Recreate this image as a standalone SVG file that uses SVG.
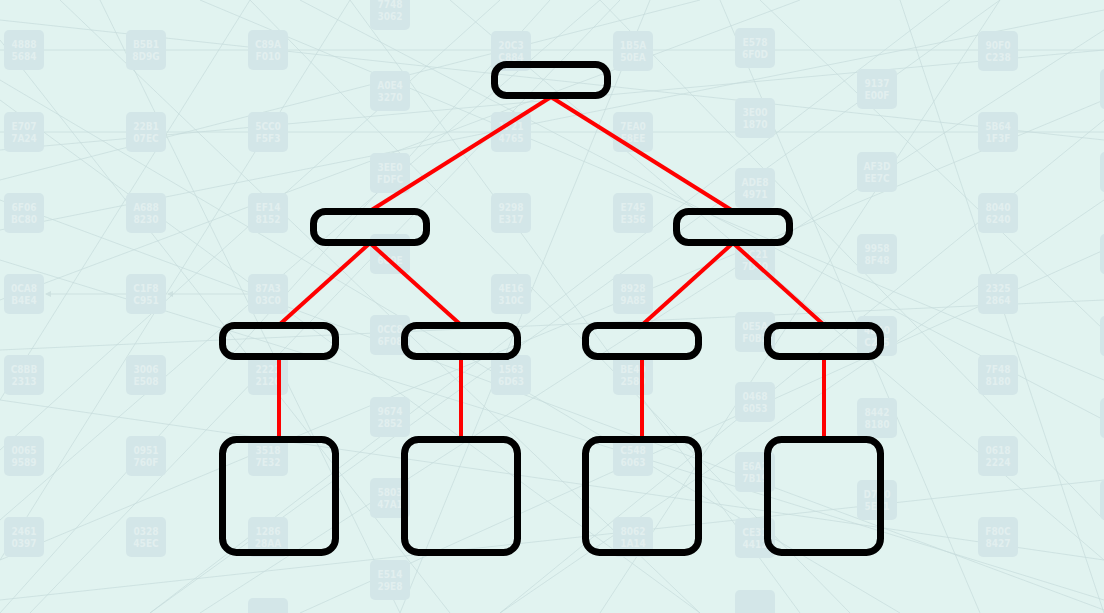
<svg xmlns="http://www.w3.org/2000/svg" width="1104" height="613" viewBox="0 0 1104 613">
<style>
.bgl{stroke:#c6dbdb;stroke-width:1;fill:none;opacity:0.7}
.tile rect{fill:#d3e6e8}
.tile text{font-family:"DejaVu Sans Condensed","DejaVu Sans",sans-serif;font-weight:bold;font-size:10px;fill:#e2efef;text-anchor:middle}
.edge{stroke:#ff0000;stroke-width:4;fill:none;stroke-linecap:butt}
.node rect{fill:none;stroke:#000000;stroke-width:7}
</style>
<defs>
<marker id="bgarrow" markerWidth="6" markerHeight="6" refX="5" refY="3" orient="auto"><path d="M0,0 L6,3 L0,6 z" fill="#c6dbdb"/></marker>
</defs>
<rect x="0" y="0" width="1104" height="613" fill="#e1f3f0"/>
<g id="background-lines">
<path class="bgl" d="M0,20 L1104,140"/>
<path class="bgl" d="M0,180 L700,0"/>
<path class="bgl" d="M100,0 L400,613"/>
<path class="bgl" d="M250,0 L0,400"/>
<path class="bgl" d="M300,613 L1104,250"/>
<path class="bgl" d="M0,520 L600,0"/>
<path class="bgl" d="M450,0 L1104,560"/>
<path class="bgl" d="M1104,30 L200,613"/>
<path class="bgl" d="M0,80 L900,613"/>
<path class="bgl" d="M600,613 L1000,0"/>
<path class="bgl" d="M800,0 L0,300"/>
<path class="bgl" d="M1104,420 L300,0"/>
<path class="bgl" d="M0,600 L1104,480"/>
<path class="bgl" d="M150,613 L950,0"/>
<path class="bgl" d="M0,350 L1104,300"/>
<path class="bgl" d="M700,613 L0,100"/>
<path class="bgl" d="M1104,200 L500,613"/>
<path class="bgl" d="M350,0 L800,613"/>
<path class="bgl" d="M0,450 L500,0"/>
<path class="bgl" d="M900,0 L1104,613"/>
<path class="bgl" d="M0,260 L1104,600"/>
<path class="bgl" d="M550,0 L0,613"/>
<path class="bgl" d="M1104,100 L0,560"/>
<path class="bgl" d="M200,0 L1104,380"/>
<path class="bgl" d="M650,0 L400,613"/>
<path class="bgl" d="M0,40 L450,613"/>
<path class="bgl" d="M1104,520 L600,0"/>
<path class="bgl" d="M850,613 L250,0"/>
<path class="bgl" d="M0,150 L1104,50"/>
<path class="bgl" d="M60,0 L700,613"/>
<path class="bgl" d="M1000,0 L150,613"/>
<path class="bgl" d="M0,230 L1104,10"/>
<path class="bgl" d="M0,400 L1104,560"/>
<path class="bgl" d="M760,0 L1104,330"/>
<path class="bgl" d="M0,560 L350,0"/>
<path class="bgl" d="M500,613 L1104,120"/>
<path class="bgl" d="M1104,610 L0,200"/>
<path class="bgl" d="M30,613 L620,0"/>
<path class="bgl" d="M720,0 L980,613"/>
<path class="bgl" d="M0,50 L1104,50"/>
<path class="bgl" d="M0,132 L1104,132"/>
<path class="bgl" d="M126,294 L46,294" marker-end="url(#bgarrow)"/>
<path class="bgl" d="M248,294 L168,294" marker-end="url(#bgarrow)"/>
</g>
<g id="background-tiles">
<g class="tile"><rect x="4" y="30" width="40" height="40" rx="5"/><text x="24" y="48">4888</text><text x="24" y="60">5684</text></g>
<g class="tile"><rect x="4" y="112" width="40" height="40" rx="5"/><text x="24" y="130">E707</text><text x="24" y="142">7A24</text></g>
<g class="tile"><rect x="4" y="193" width="40" height="40" rx="5"/><text x="24" y="211">6F06</text><text x="24" y="223">BC80</text></g>
<g class="tile"><rect x="4" y="274" width="40" height="40" rx="5"/><text x="24" y="292">0CA8</text><text x="24" y="304">B4E4</text></g>
<g class="tile"><rect x="4" y="355" width="40" height="40" rx="5"/><text x="24" y="373">C8BB</text><text x="24" y="385">2313</text></g>
<g class="tile"><rect x="4" y="436" width="40" height="40" rx="5"/><text x="24" y="454">0065</text><text x="24" y="466">9589</text></g>
<g class="tile"><rect x="4" y="517" width="40" height="40" rx="5"/><text x="24" y="535">2461</text><text x="24" y="547">0397</text></g>
<g class="tile"><rect x="126" y="30" width="40" height="40" rx="5"/><text x="146" y="48">B5B1</text><text x="146" y="60">8D9G</text></g>
<g class="tile"><rect x="126" y="112" width="40" height="40" rx="5"/><text x="146" y="130">22B1</text><text x="146" y="142">07EC</text></g>
<g class="tile"><rect x="126" y="193" width="40" height="40" rx="5"/><text x="146" y="211">A688</text><text x="146" y="223">8230</text></g>
<g class="tile"><rect x="126" y="274" width="40" height="40" rx="5"/><text x="146" y="292">C1F8</text><text x="146" y="304">C951</text></g>
<g class="tile"><rect x="126" y="355" width="40" height="40" rx="5"/><text x="146" y="373">3006</text><text x="146" y="385">E508</text></g>
<g class="tile"><rect x="126" y="436" width="40" height="40" rx="5"/><text x="146" y="454">0951</text><text x="146" y="466">760F</text></g>
<g class="tile"><rect x="126" y="517" width="40" height="40" rx="5"/><text x="146" y="535">0328</text><text x="146" y="547">45EC</text></g>
<g class="tile"><rect x="248" y="30" width="40" height="40" rx="5"/><text x="268" y="48">C89A</text><text x="268" y="60">F010</text></g>
<g class="tile"><rect x="248" y="112" width="40" height="40" rx="5"/><text x="268" y="130">5CC0</text><text x="268" y="142">F5F3</text></g>
<g class="tile"><rect x="248" y="193" width="40" height="40" rx="5"/><text x="268" y="211">EF14</text><text x="268" y="223">8152</text></g>
<g class="tile"><rect x="248" y="274" width="40" height="40" rx="5"/><text x="268" y="292">87A3</text><text x="268" y="304">03C0</text></g>
<g class="tile"><rect x="248" y="355" width="40" height="40" rx="5"/><text x="268" y="373">2222</text><text x="268" y="385">2120</text></g>
<g class="tile"><rect x="248" y="436" width="40" height="40" rx="5"/><text x="268" y="454">3518</text><text x="268" y="466">7E32</text></g>
<g class="tile"><rect x="248" y="517" width="40" height="40" rx="5"/><text x="268" y="535">1286</text><text x="268" y="547">28AA</text></g>
<g class="tile"><rect x="248" y="598" width="40" height="40" rx="5"/></g>
<g class="tile"><rect x="370" y="-10" width="40" height="40" rx="5"/><text x="390" y="8">7748</text><text x="390" y="20">3062</text></g>
<g class="tile"><rect x="370" y="71" width="40" height="40" rx="5"/><text x="390" y="89">A0E4</text><text x="390" y="101">3270</text></g>
<g class="tile"><rect x="370" y="153" width="40" height="40" rx="5"/><text x="390" y="171">3EE0</text><text x="390" y="183">FDFC</text></g>
<g class="tile"><rect x="370" y="234" width="40" height="40" rx="5"/><text x="390" y="264">6C0E</text></g>
<g class="tile"><rect x="370" y="315" width="40" height="40" rx="5"/><text x="390" y="333">0CC8</text><text x="390" y="345">6F08</text></g>
<g class="tile"><rect x="370" y="397" width="40" height="40" rx="5"/><text x="390" y="415">9674</text><text x="390" y="427">2852</text></g>
<g class="tile"><rect x="370" y="478" width="40" height="40" rx="5"/><text x="390" y="496">5803</text><text x="390" y="508">47A1</text></g>
<g class="tile"><rect x="370" y="560" width="40" height="40" rx="5"/><text x="390" y="578">E514</text><text x="390" y="590">29E8</text></g>
<g class="tile"><rect x="491" y="31" width="40" height="40" rx="5"/><text x="511" y="49">20C3</text><text x="511" y="61">C884</text></g>
<g class="tile"><rect x="491" y="112" width="40" height="40" rx="5"/><text x="511" y="130">1F21</text><text x="511" y="142">4765</text></g>
<g class="tile"><rect x="491" y="193" width="40" height="40" rx="5"/><text x="511" y="211">9298</text><text x="511" y="223">E317</text></g>
<g class="tile"><rect x="491" y="274" width="40" height="40" rx="5"/><text x="511" y="292">4E16</text><text x="511" y="304">310C</text></g>
<g class="tile"><rect x="491" y="355" width="40" height="40" rx="5"/><text x="511" y="373">1563</text><text x="511" y="385">6D63</text></g>
<g class="tile"><rect x="613" y="31" width="40" height="40" rx="5"/><text x="633" y="49">1B5A</text><text x="633" y="61">50EA</text></g>
<g class="tile"><rect x="613" y="112" width="40" height="40" rx="5"/><text x="633" y="130">7EA0</text><text x="633" y="142">F8EE</text></g>
<g class="tile"><rect x="613" y="193" width="40" height="40" rx="5"/><text x="633" y="211">E745</text><text x="633" y="223">E356</text></g>
<g class="tile"><rect x="613" y="274" width="40" height="40" rx="5"/><text x="633" y="292">8928</text><text x="633" y="304">9A85</text></g>
<g class="tile"><rect x="613" y="355" width="40" height="40" rx="5"/><text x="633" y="373">BE40</text><text x="633" y="385">2580</text></g>
<g class="tile"><rect x="613" y="436" width="40" height="40" rx="5"/><text x="633" y="454">C548</text><text x="633" y="466">6063</text></g>
<g class="tile"><rect x="613" y="517" width="40" height="40" rx="5"/><text x="633" y="535">8062</text><text x="633" y="547">1A14</text></g>
<g class="tile"><rect x="735" y="28" width="40" height="40" rx="5"/><text x="755" y="46">E578</text><text x="755" y="58">6F0D</text></g>
<g class="tile"><rect x="735" y="98" width="40" height="40" rx="5"/><text x="755" y="116">3E00</text><text x="755" y="128">1870</text></g>
<g class="tile"><rect x="735" y="168" width="40" height="40" rx="5"/><text x="755" y="186">ADE8</text><text x="755" y="198">4971</text></g>
<g class="tile"><rect x="735" y="240" width="40" height="40" rx="5"/><text x="755" y="258">3C21</text><text x="755" y="270">7D40</text></g>
<g class="tile"><rect x="735" y="312" width="40" height="40" rx="5"/><text x="755" y="330">0E5A</text><text x="755" y="342">F0B2</text></g>
<g class="tile"><rect x="735" y="382" width="40" height="40" rx="5"/><text x="755" y="400">0468</text><text x="755" y="412">6053</text></g>
<g class="tile"><rect x="735" y="452" width="40" height="40" rx="5"/><text x="755" y="470">E6A2</text><text x="755" y="482">7B19</text></g>
<g class="tile"><rect x="735" y="518" width="40" height="40" rx="5"/><text x="755" y="536">CE31</text><text x="755" y="548">4412</text></g>
<g class="tile"><rect x="735" y="590" width="40" height="40" rx="5"/></g>
<g class="tile"><rect x="857" y="69" width="40" height="40" rx="5"/><text x="877" y="87">9137</text><text x="877" y="99">E00F</text></g>
<g class="tile"><rect x="857" y="152" width="40" height="40" rx="5"/><text x="877" y="170">AF3D</text><text x="877" y="182">EE7C</text></g>
<g class="tile"><rect x="857" y="234" width="40" height="40" rx="5"/><text x="877" y="252">9958</text><text x="877" y="264">8F48</text></g>
<g class="tile"><rect x="857" y="316" width="40" height="40" rx="5"/><text x="877" y="334">4D10</text><text x="877" y="346">C2E5</text></g>
<g class="tile"><rect x="857" y="398" width="40" height="40" rx="5"/><text x="877" y="416">8442</text><text x="877" y="428">8180</text></g>
<g class="tile"><rect x="857" y="480" width="40" height="40" rx="5"/><text x="877" y="498">D7A0</text><text x="877" y="510">5E21</text></g>
<g class="tile"><rect x="978" y="31" width="40" height="40" rx="5"/><text x="998" y="49">90F0</text><text x="998" y="61">C238</text></g>
<g class="tile"><rect x="978" y="112" width="40" height="40" rx="5"/><text x="998" y="130">5B64</text><text x="998" y="142">1F3F</text></g>
<g class="tile"><rect x="978" y="193" width="40" height="40" rx="5"/><text x="998" y="211">8040</text><text x="998" y="223">6240</text></g>
<g class="tile"><rect x="978" y="274" width="40" height="40" rx="5"/><text x="998" y="292">2325</text><text x="998" y="304">2864</text></g>
<g class="tile"><rect x="978" y="355" width="40" height="40" rx="5"/><text x="998" y="373">7F48</text><text x="998" y="385">8180</text></g>
<g class="tile"><rect x="978" y="436" width="40" height="40" rx="5"/><text x="998" y="454">0618</text><text x="998" y="466">2224</text></g>
<g class="tile"><rect x="978" y="517" width="40" height="40" rx="5"/><text x="998" y="535">F80C</text><text x="998" y="547">8427</text></g>
<g class="tile"><rect x="1100" y="69" width="40" height="40" rx="5"/></g>
<g class="tile"><rect x="1100" y="152" width="40" height="40" rx="5"/></g>
<g class="tile"><rect x="1100" y="234" width="40" height="40" rx="5"/></g>
<g class="tile"><rect x="1100" y="316" width="40" height="40" rx="5"/></g>
<g class="tile"><rect x="1100" y="398" width="40" height="40" rx="5"/></g>
<g class="tile"><rect x="1100" y="480" width="40" height="40" rx="5"/></g>
</g>
<g id="connectors">
<path class="edge" d="M551,97 L370,211"/>
<path class="edge" d="M551,97 L733,211"/>
<path class="edge" d="M370,243 L279,325"/>
<path class="edge" d="M370,243 L461,325"/>
<path class="edge" d="M733,243 L642,325"/>
<path class="edge" d="M733,243 L824,325"/>
<path class="edge" d="M279,357 L279,439"/>
<path class="edge" d="M461,357 L461,439"/>
<path class="edge" d="M642,357 L642,439"/>
<path class="edge" d="M824,357 L824,439"/>
</g>
<g id="root" class="node"><rect x="494.5" y="64.5" width="113" height="31" rx="12"/></g>
<g id="n-l" class="node"><rect x="313.5" y="211.5" width="113" height="31" rx="12"/></g>
<g id="n-r" class="node"><rect x="676.5" y="211.5" width="113" height="31" rx="12"/></g>
<g id="n-ll" class="node"><rect x="222.5" y="325.5" width="113" height="31" rx="12"/></g>
<g id="n-lr" class="node"><rect x="404.5" y="325.5" width="113" height="31" rx="12"/></g>
<g id="n-rl" class="node"><rect x="585.5" y="325.5" width="113" height="31" rx="12"/></g>
<g id="n-rr" class="node"><rect x="767.5" y="325.5" width="113" height="31" rx="12"/></g>
<g id="leaf-ll" class="node"><rect x="222.5" y="439.5" width="113" height="113" rx="14"/></g>
<g id="leaf-lr" class="node"><rect x="404.5" y="439.5" width="113" height="113" rx="14"/></g>
<g id="leaf-rl" class="node"><rect x="585.5" y="439.5" width="113" height="113" rx="14"/></g>
<g id="leaf-rr" class="node"><rect x="767.5" y="439.5" width="113" height="113" rx="14"/></g>
</svg>
